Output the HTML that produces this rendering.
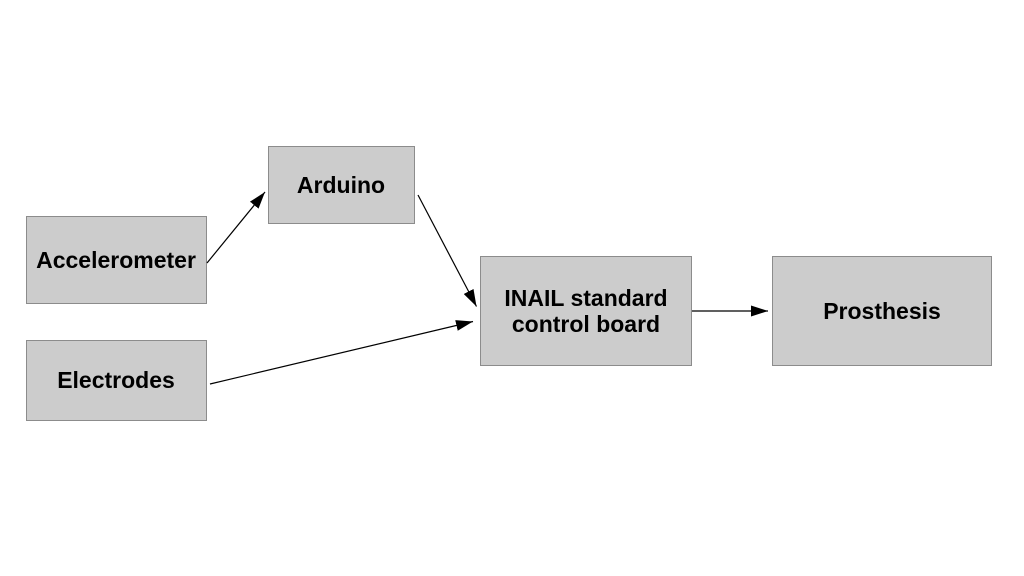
<!DOCTYPE html>
<html>
<head>
<meta charset="utf-8">
<style>
  html,body{margin:0;padding:0;background:#fff;}
  body{width:1024px;height:576px;overflow:hidden;}
  svg{display:block;}
  text{font-family:"Liberation Sans", Arial, sans-serif;font-weight:bold;font-size:23px;fill:#000;}
</style>
</head>
<body>
<svg width="1024" height="576" viewBox="0 0 1024 576" xmlns="http://www.w3.org/2000/svg">
  <defs>
    <marker id="ah" viewBox="0 0 17 11" refX="17" refY="5.5" markerWidth="17" markerHeight="11" markerUnits="userSpaceOnUse" orient="auto">
      <path d="M0,0 L17,5.5 L0,11 z" fill="#000"/>
    </marker>
  </defs>
  <rect x="0" y="0" width="1024" height="576" fill="#fff"/>

  <!-- Boxes -->
  <rect x="26.5" y="216.5" width="180" height="87" fill="#cccccc" stroke="#8c8c8c" stroke-width="1"/>
  <rect x="26.5" y="340.5" width="180" height="80" fill="#cccccc" stroke="#8c8c8c" stroke-width="1"/>
  <rect x="268.5" y="146.5" width="146" height="77" fill="#cccccc" stroke="#8c8c8c" stroke-width="1"/>
  <rect x="480.5" y="256.5" width="211" height="109" fill="#cccccc" stroke="#8c8c8c" stroke-width="1"/>
  <rect x="772.5" y="256.5" width="219" height="109" fill="#cccccc" stroke="#8c8c8c" stroke-width="1"/>

  <!-- Labels -->
  <text x="116" y="268" text-anchor="middle">Accelerometer</text>
  <text x="116" y="388" text-anchor="middle">Electrodes</text>
  <text x="341" y="193" text-anchor="middle">Arduino</text>
  <text x="586" y="306" text-anchor="middle">INAIL standard</text>
  <text x="586" y="332" text-anchor="middle">control board</text>
  <text x="882" y="319" text-anchor="middle">Prosthesis</text>

  <!-- Connectors -->
  <line x1="207" y1="263" x2="265" y2="192" stroke="#000" stroke-width="1.2" marker-end="url(#ah)"/>
  <line x1="418" y1="195" x2="476.5" y2="306.5" stroke="#000" stroke-width="1.2" marker-end="url(#ah)"/>
  <line x1="210" y1="384" x2="473" y2="321.5" stroke="#000" stroke-width="1.2" marker-end="url(#ah)"/>
  <line x1="692" y1="311" x2="768" y2="311" stroke="#000" stroke-width="1.2" marker-end="url(#ah)"/>
</svg>
</body>
</html>
